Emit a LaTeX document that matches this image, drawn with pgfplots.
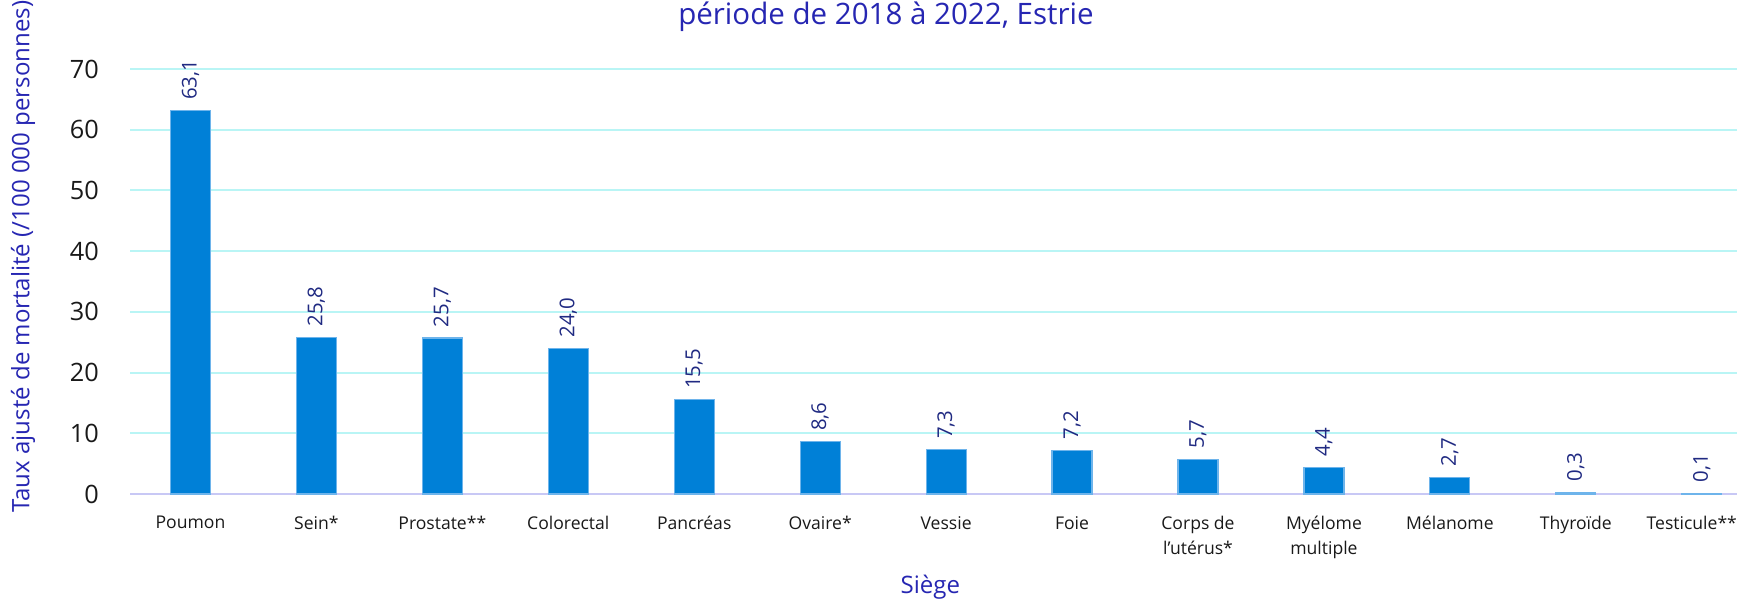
\documentclass[border=0pt]{standalone}
\usepackage{fontspec}
\setmainfont{Open Sans}
\usepackage{pgfplots}
\pgfplotsset{compat=1.18}
\definecolor{barc}{RGB}{0,128,215}
\definecolor{barline}{RGB}{110,180,235}
\definecolor{titlec}{RGB}{38,38,178}
\definecolor{valc}{RGB}{32,42,130}
\definecolor{gridc}{RGB}{185,245,245}
\definecolor{basec}{RGB}{200,200,245}
\definecolor{tickc}{RGB}{25,25,25}
\begin{document}
\begin{tikzpicture}
\useasboundingbox (0,0) rectangle (43.425,14.975);
\begin{axis}[
  at={(3.25cm,2.625cm)},anchor=south west,
  scale only axis,width=40.175cm,height=10.625cm,
  ybar,bar width=1cm,
  xmin=-0.48,xmax=12.28,ymin=0,ymax=70,
  clip=false,
  axis line style={draw=none},
  major tick length=0pt,
  xtick=data,
  xticklabels={Poumon,Sein*,Prostate**,Colorectal,Pancréas,Ovaire*,Vessie,Foie,{Corps de\\l'utérus*},{Myélome\\multiple},Mélanome,Thyroïde,{\hspace*{-5mm}Testicule**}},
  xticklabel style={font=\fontsize{12.5}{17.6}\selectfont,text=tickc,align=center,yshift=-4.3mm},
  ytick={10,20,...,70},
  extra y ticks={0},
  extra y tick style={grid style={basec,line width=1.6pt}},
  ymajorgrids=true,grid style={gridc,line width=1.4pt},
  yticklabel style={font=\fontsize{18}{20}\selectfont,text=tickc,xshift=-6.55mm},
  /pgf/number format/assume math mode=true,
  ylabel={Taux ajusté de mortalité (/100 000 personnes)},
  ylabel style={at={(axis description cs:-0.0665,0.558)},anchor=center,font=\fontsize{17.1}{18}\selectfont,text=titlec},
  xlabel={Siège},
  xlabel style={at={(axis description cs:0.498,-0.220)},anchor=center,font=\fontsize{17.1}{18}\selectfont,text=titlec},
  title={période de 2018 à 2022, Estrie},
  title style={at={(axis description cs:0.4704,1.0847)},anchor=base,font=\fontsize{21}{24}\selectfont,text=titlec},
  nodes near coords={\pgfmathprintnumber[fixed,fixed zerofill,precision=1,use comma,assume math mode=true]{\pgfplotspointmeta}},
  nodes near coords style={rotate=90,anchor=west,inner xsep=2.6mm,font=\fontsize{14.5}{16}\selectfont,text=valc},
]
  \addplot[fill=barc,draw=barline,line width=0.8pt] coordinates {(0,63.1) (1,25.8) (2,25.7) (3,24.0) (4,15.5) (5,8.6) (6,7.3) (7,7.2) (8,5.7) (9,4.4) (10,2.7) (11,0.3) (12,0.1)};
\end{axis}
\end{tikzpicture}
\end{document}
